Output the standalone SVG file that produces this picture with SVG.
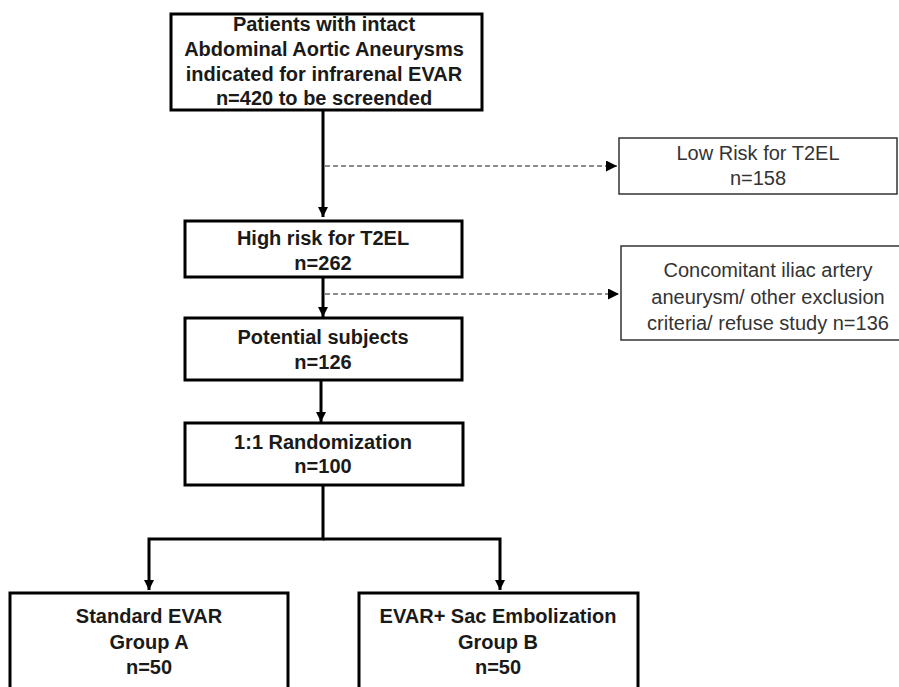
<svg xmlns="http://www.w3.org/2000/svg" width="899" height="687" viewBox="0 0 899 687">
<style>
.main{fill:#fff;stroke:#000;stroke-width:3}
.side{fill:#fff;stroke:#333;stroke-width:1.5}
.b{font-family:"Liberation Sans",Arial,sans-serif;font-size:20px;font-weight:bold;fill:#1a1a1a;text-anchor:middle}
.r{font-family:"Liberation Sans",Arial,sans-serif;font-size:20px;fill:#333;text-anchor:middle}
.solid{fill:none;stroke:#000;stroke-width:3}
.dash{fill:none;stroke:#666;stroke-width:1.5;stroke-dasharray:5 3}
</style>
<defs>
<marker id="ah" viewBox="0 0 10 10" refX="10" refY="5" markerWidth="10" markerHeight="10" markerUnits="userSpaceOnUse" orient="auto"><path d="M0,0 L10,5 L0,10 z" fill="#000"/></marker>
<marker id="ahs" viewBox="0 0 10 10" refX="10" refY="5" markerWidth="11" markerHeight="11" markerUnits="userSpaceOnUse" orient="auto"><path d="M0,0 L10,5 L0,10 z" fill="#000"/></marker>
</defs>
<rect width="899" height="687" fill="#fff"/>
<g id="connectors">
<path class="solid" d="M323,110 V217" marker-end="url(#ah)"/>
<path class="dash" d="M325,166 H617" marker-end="url(#ahs)"/>
<path class="solid" d="M323,277 V317" marker-end="url(#ah)"/>
<path class="dash" d="M325,294 H619" marker-end="url(#ahs)"/>
<path class="solid" d="M321,380 V422" marker-end="url(#ah)"/>
<path class="solid" d="M323,485 V539 H149 V590" marker-end="url(#ah)"/>
<path class="solid" d="M323,539 H500 V590" marker-end="url(#ah)"/>
</g>
<g id="n_screen">
<rect class="main" x="171" y="14" width="311" height="96"/>
<text class="b" x="324" y="31">Patients with intact</text>
<text class="b" x="324" y="56">Abdominal Aortic Aneurysms</text>
<text class="b" x="324" y="81">indicated for infrarenal EVAR</text>
<text class="b" x="324" y="105">n=420 to be screended</text>
</g>
<g id="n_low">
<rect class="side" x="619" y="138" width="278" height="56"/>
<text class="r" x="758" y="160">Low Risk for T2EL</text>
<text class="r" x="758" y="185">n=158</text>
</g>
<g id="n_high">
<rect class="main" x="185" y="221" width="277" height="56"/>
<text class="b" x="323" y="245">High risk for T2EL</text>
<text class="b" x="323" y="270">n=262</text>
</g>
<g id="n_excl">
<rect class="side" x="621" y="246" width="295" height="94"/>
<text class="r" x="768" y="277">Concomitant iliac artery</text>
<text class="r" x="768" y="304">aneurysm/ other exclusion</text>
<text class="r" x="768" y="330">criteria/ refuse study n=136</text>
</g>
<g id="n_potential">
<rect class="main" x="185" y="318" width="277" height="62"/>
<text class="b" x="323" y="344">Potential subjects</text>
<text class="b" x="323" y="369">n=126</text>
</g>
<g id="n_random">
<rect class="main" x="185" y="423" width="278" height="62"/>
<text class="b" x="323" y="449">1:1 Randomization</text>
<text class="b" x="323" y="473">n=100</text>
</g>
<g id="n_groupA">
<rect class="main" x="10" y="593" width="278" height="110"/>
<text class="b" x="149" y="623">Standard EVAR</text>
<text class="b" x="149" y="649">Group A</text>
<text class="b" x="149" y="674">n=50</text>
</g>
<g id="n_groupB">
<rect class="main" x="359" y="593" width="279" height="110"/>
<text class="b" x="498" y="623">EVAR+ Sac Embolization</text>
<text class="b" x="498" y="649">Group B</text>
<text class="b" x="498" y="674">n=50</text>
</g>
</svg>
